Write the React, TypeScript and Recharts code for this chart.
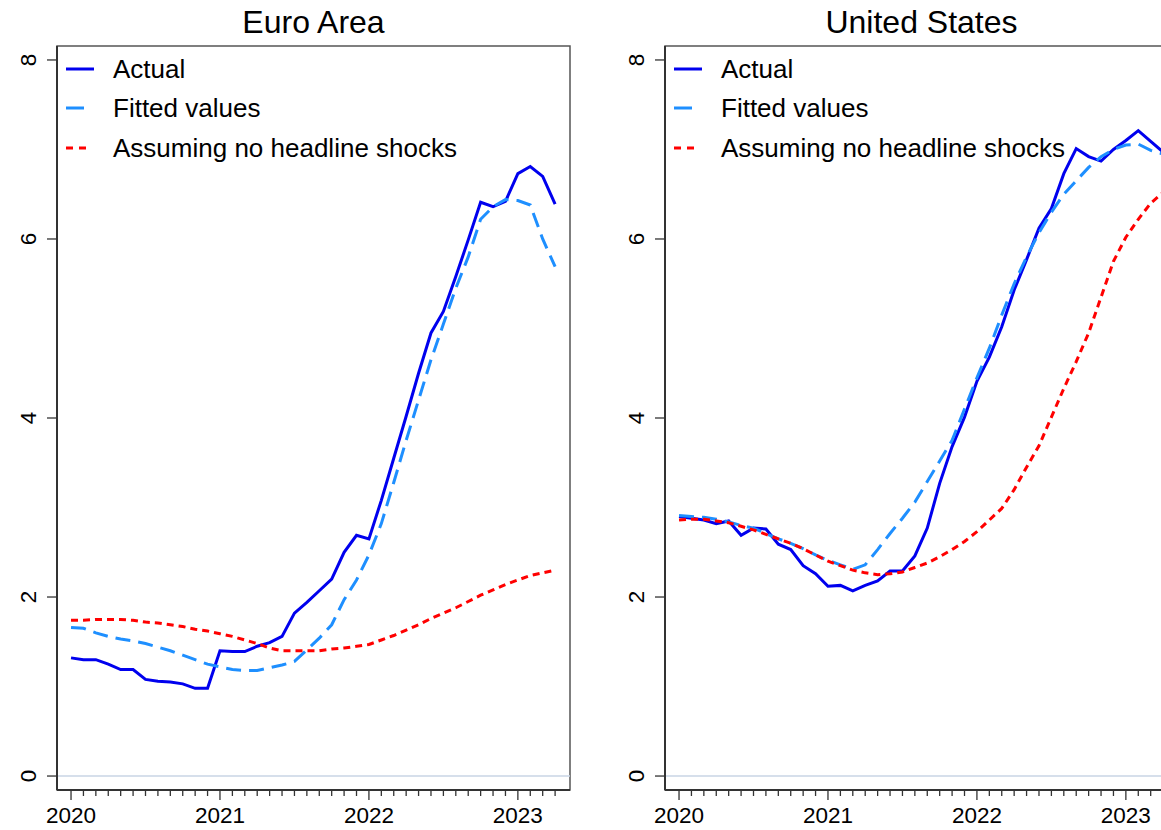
import React from "react";
import { LineChart, Line, XAxis, YAxis, ReferenceLine, ReferenceArea, Legend } from "recharts";

// ---- categories (monthly, Jan 2020 .. Apr 2023) ----
const monthCategories: string[] = [];
for (let yr = 2020; yr <= 2023; yr++) {
  for (let mo = 1; mo <= 12; mo++) monthCategories.push(`${yr}m${mo}`);
}
const months = monthCategories.slice(0, 40);

const yearTickLabels = ["2020", "2021", "2022", "2023"];
const yTicks = [0, 2, 4, 6, 8];

// ---- Euro Area ----
const euroActual = [
  1.32, 1.30, 1.30, 1.25, 1.19, 1.19, 1.08, 1.06, 1.05, 1.03, 0.98, 0.98,
  1.40, 1.39, 1.39, 1.45, 1.49, 1.56, 1.82, 1.94, 2.07, 2.20, 2.50, 2.69,
  2.65, 3.08, 3.55, 4.02, 4.50, 4.95, 5.19, 5.58, 5.99, 6.41, 6.36, 6.42,
  6.73, 6.81, 6.70, 6.39,
];
const euroFitted = [
  1.66, 1.65, 1.60, 1.56, 1.53, 1.51, 1.48, 1.44, 1.40, 1.35, 1.30, 1.25,
  1.22, 1.19, 1.18, 1.18, 1.21, 1.24, 1.28, 1.41, 1.54, 1.69, 1.97, 2.19,
  2.47, 2.82, 3.28, 3.75, 4.20, 4.65, 5.05, 5.45, 5.80, 6.22, 6.36, 6.44,
  6.43, 6.38, 6.00, 5.69,
];
const euroNoShock = [
  1.74, 1.74, 1.75, 1.75, 1.75, 1.74, 1.72, 1.71, 1.69, 1.67, 1.64, 1.62,
  1.59, 1.56, 1.52, 1.48, 1.43, 1.40, 1.40, 1.40, 1.40, 1.42, 1.43, 1.45,
  1.47, 1.52, 1.57, 1.63, 1.69, 1.76, 1.82, 1.88, 1.95, 2.02, 2.08, 2.14,
  2.19, 2.24, 2.27, 2.30,
];

// ---- United States ----
const usActual = [
  2.90, 2.88, 2.86, 2.82, 2.85, 2.69, 2.77, 2.76, 2.59, 2.53, 2.35, 2.26,
  2.12, 2.13, 2.07, 2.13, 2.18, 2.29, 2.29, 2.46, 2.77, 3.27, 3.68, 4.01,
  4.41, 4.68, 5.02, 5.43, 5.77, 6.12, 6.34, 6.73, 7.01, 6.92, 6.87, 7.00,
  7.10, 7.21, 7.09, 6.97,
];
const usFitted = [
  2.91, 2.90, 2.89, 2.87, 2.84, 2.80, 2.77, 2.71, 2.65, 2.60, 2.54, 2.47,
  2.41, 2.36, 2.31, 2.36, 2.53, 2.71, 2.88, 3.06, 3.29, 3.52, 3.75, 4.10,
  4.45, 4.78, 5.15, 5.50, 5.80, 6.07, 6.30, 6.50, 6.65, 6.80, 6.92, 7.00,
  7.05, 7.06, 6.99, 6.95,
];
const usNoShock = [
  2.86, 2.87, 2.87, 2.85, 2.83, 2.79, 2.75, 2.70, 2.65, 2.60, 2.54, 2.47,
  2.40, 2.35, 2.30, 2.27, 2.25, 2.26, 2.28, 2.33, 2.38, 2.45, 2.53, 2.62,
  2.73, 2.86, 2.99, 3.20, 3.45, 3.69, 4.01, 4.33, 4.63, 4.95, 5.35, 5.75,
  6.02, 6.22, 6.40, 6.52,
];

const seriesNames = ["Actual", "Fitted values", "Assuming no headline shocks"];

const ACTUAL_COLOR = "#0000ee";
const FITTED_COLOR = "#1e8fff";
const NOSHOCK_COLOR = "#ff0000";
const AXIS_COLOR = "#333333";
const FONT = "'Liberation Sans', Arial, sans-serif";

const X_DOMAIN: [number, number] = [-1.13, 40.2];
const Y_DOMAIN: [number, number] = [-0.156, 8.156];
const xTicks = months.map((_, i) => i);

function buildData(a: number[], f: number[], n: number[]) {
  return months.map((label, i) => ({ t: i, label, actual: a[i], fitted: f[i], noShock: n[i] }));
}

const XTick = (props: any) => {
  const { x, y, payload } = props;
  const m = payload.value as number;
  const major = m % 12 === 0;
  return (
    <g>
      <line x1={x} x2={x} y1={y} y2={y + (major ? 10 : 6)} stroke={AXIS_COLOR} strokeWidth={1.3} />
      {major && (
        <text x={x} y={y + 25} textAnchor="middle" dominantBaseline="central" fontSize={22.5} fill="#000" fontFamily={FONT}>
          {yearTickLabels[m / 12]}
        </text>
      )}
    </g>
  );
};

const YTick = (props: any) => {
  const { x, y, payload } = props;
  const cx = x - 17;
  return (
    <text
      x={0}
      y={0}
      transform={`translate(${cx},${y}) rotate(-90)`}
      textAnchor="middle"
      dominantBaseline="central"
      fontSize={22.5}
      fill="#000"
      fontFamily={FONT}
    >
      {payload.value}
    </text>
  );
};

const legendItems = [
  { label: seriesNames[0], color: ACTUAL_COLOR, len: 28, dash: undefined as string | undefined },
  { label: seriesNames[1], color: FITTED_COLOR, len: 18, dash: undefined as string | undefined },
  { label: seriesNames[2], color: NOSHOCK_COLOR, len: 21, dash: "7 6" },
];

const renderLegend = () => (
  <div style={{ display: "flex", flexDirection: "column", fontFamily: FONT }}>
    {legendItems.map((it) => (
      <div key={it.label} style={{ height: 39.5, display: "flex", alignItems: "center", whiteSpace: "nowrap" }}>
        <svg width={47} height={10} style={{ display: "block" }}>
          <line x1={0} y1={5} x2={it.len} y2={5} stroke={it.color} strokeWidth={3} strokeDasharray={it.dash} />
        </svg>
        <span style={{ fontSize: 26, color: "#000", lineHeight: "30px" }}>{it.label}</span>
      </div>
    ))}
  </div>
);

const Panel = ({ title, data, left }: { title: string; data: any[]; left: number }) => (
  <div style={{ position: "absolute", left, top: 0, width: 580, height: 830 }}>
    <div
      style={{
        position: "absolute",
        left: 57,
        width: 513,
        top: 4,
        textAlign: "center",
        fontSize: 32,
        lineHeight: "36px",
        fontFamily: FONT,
        color: "#000",
      }}
    >
      {title}
    </div>
    <LineChart width={580} height={830} data={data} margin={{ top: 46, right: 10, bottom: 0, left: 0 }}>
      <XAxis
        dataKey="t"
        type="number"
        domain={X_DOMAIN}
        allowDataOverflow
        ticks={xTicks}
        interval={0}
        tickLine={false}
        tickSize={0}
        tickMargin={0}
        height={40}
        axisLine={{ stroke: AXIS_COLOR, strokeWidth: 2 }}
        tick={(p: any) => <XTick {...p} />}
      />
      <YAxis
        type="number"
        domain={Y_DOMAIN}
        allowDataOverflow
        ticks={yTicks}
        interval={0}
        width={57}
        tickSize={10}
        tickMargin={2}
        tickLine={{ stroke: AXIS_COLOR, strokeWidth: 1.3 }}
        axisLine={{ stroke: AXIS_COLOR, strokeWidth: 2 }}
        tick={(p: any) => <YTick {...p} />}
      />
      <ReferenceArea
        x1={X_DOMAIN[0]}
        x2={X_DOMAIN[1]}
        y1={Y_DOMAIN[0]}
        y2={Y_DOMAIN[1]}
        fill="none"
        stroke="#555555"
        strokeWidth={1.5}
        ifOverflow="visible"
      />
      <ReferenceLine y={0} stroke="#c9d5e4" strokeWidth={1.5} />
      <Line dataKey="actual" name={seriesNames[0]} stroke={ACTUAL_COLOR} strokeWidth={3} dot={false} isAnimationActive={false} />
      <Line dataKey="fitted" name={seriesNames[1]} stroke={FITTED_COLOR} strokeWidth={3} strokeDasharray="15 8" dot={false} isAnimationActive={false} />
      <Line dataKey="noShock" name={seriesNames[2]} stroke={NOSHOCK_COLOR} strokeWidth={3} strokeDasharray="7 5" dot={false} isAnimationActive={false} />
      <Legend
        layout="vertical"
        align="center"
        verticalAlign="middle"
        wrapperStyle={{ left: 66, top: 49, width: "auto", right: "auto", bottom: "auto" }}
        content={renderLegend}
      />
    </LineChart>
  </div>
);

export default function App() {
  const euroData = buildData(euroActual, euroFitted, euroNoShock);
  const usData = buildData(usActual, usFitted, usNoShock);
  return (
    <div
      style={{
        position: "fixed",
        left: 0,
        top: 0,
        width: 1161,
        height: 830,
        overflow: "hidden",
        background: "#fff",
        fontFamily: FONT,
      }}
    >
      <Panel title="Euro Area" data={euroData} left={0} />
      <Panel title="United States" data={usData} left={608} />
    </div>
  );
}
